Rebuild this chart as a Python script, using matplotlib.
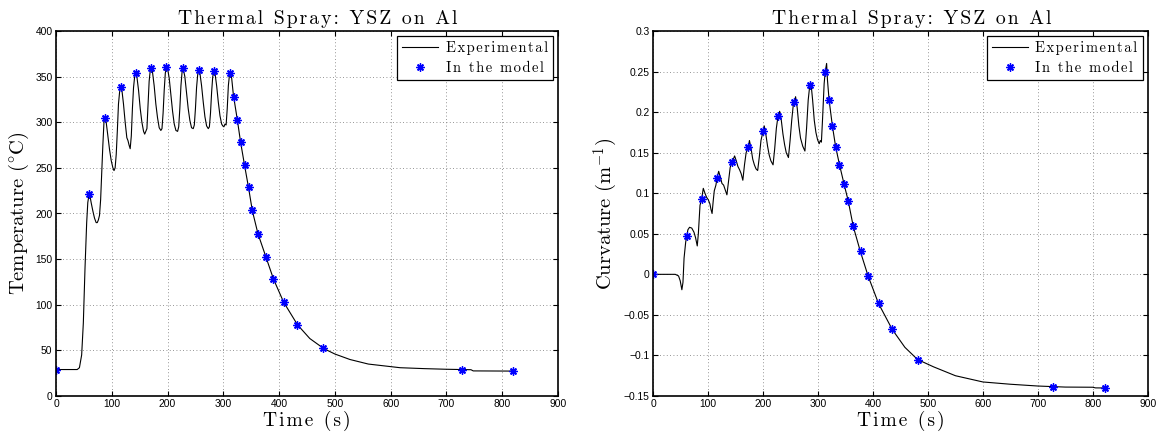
import matplotlib
matplotlib.use("Agg")
import matplotlib.pyplot as plt
from matplotlib.ticker import FixedLocator, FuncFormatter

# ---------------- data ----------------
# Temperature, experimental trace (time s, temperature °C)
t_exp_T = [0, 20, 38, 42, 46, 49, 52, 55, 57, 59, 61, 63, 66, 69, 72, 74, 76, 78, 80, 82, 84, 86, 88,
           90, 93, 96, 99, 102, 104, 106, 108, 110, 112, 114, 116, 118, 121, 124, 127, 129, 131, 133,
           135, 137, 139, 141, 143, 145, 148, 151, 154, 157, 159, 161, 163, 165, 167, 169, 171, 173,
           176, 179, 182, 185, 188, 190, 192, 194, 196, 198, 200, 203, 206, 209, 212, 215, 218, 220,
           222, 224, 226, 228, 231, 234, 237, 240, 243, 246, 248, 250, 252, 254, 256, 258, 261, 264,
           267, 270, 273, 275, 277, 279, 281, 283, 285, 288, 291, 294, 297, 299, 301, 303, 305, 307,
           309, 311, 313, 315, 318, 325, 331, 338, 345, 352, 362, 376, 390, 408, 433, 455, 480, 500,
           527, 560, 617, 660, 700, 744, 748, 820]
T_exp = [29, 29, 29, 31, 45, 80, 140, 190, 212, 220, 219, 212, 203, 195, 190, 190, 193, 198, 215, 245,
         275, 300, 305, 300, 285, 270, 258, 250, 247, 250, 265, 291, 320, 333, 339, 336, 320, 300, 283,
         280, 275, 271, 285, 315, 338, 350, 354, 350, 335, 315, 300, 290, 287, 290, 293, 320, 345, 357,
         359, 355, 340, 320, 305, 294, 291, 293, 310, 335, 354, 360, 359, 348, 330, 312, 298, 291, 290,
         295, 315, 340, 355, 359, 350, 333, 315, 302, 294, 293, 297, 315, 338, 352, 357, 354, 340, 322,
         306, 296, 293, 295, 310, 333, 350, 355, 354, 340, 322, 307, 298, 296, 295, 298, 297, 315,
         340, 352, 354, 348, 330, 303, 278, 253, 229, 203, 178, 153, 128, 103, 78, 63, 52, 46,
         40, 35, 31, 30, 29.3, 28.8, 27.5, 27.3]

# Temperature, model points
t_mod_T = [0, 59, 88, 116, 143, 170, 198, 227, 256, 284, 312, 318.6, 325, 331, 338, 345.5, 352,
           362.8, 376, 389.7, 408, 432.8, 479.4, 727, 820]
T_mod = [29, 221, 305, 339, 353.6, 359.5, 360.5, 359.5, 357.6, 355.8, 354, 328, 303, 278, 253.5, 229,
         203.5, 178, 152.7, 128.6, 103.4, 77.8, 52.6, 28.8, 27.4]

# Curvature, experimental trace (time s, curvature 1/m)
t_exp_k = [0, 20, 40, 46, 49, 52, 54, 56, 59, 61, 63, 66, 70, 74, 77, 80, 82, 85, 88, 91, 94, 97, 100,
           103, 105, 107, 109, 111, 114, 116, 119, 122, 125, 128, 131, 134, 137, 140, 144, 148, 151,
           154, 157, 160, 163, 166, 169, 173, 175, 178, 181, 184, 187, 190, 193, 196, 200, 202, 205,
           208, 211, 214, 218, 221, 224, 227, 230, 233, 236, 239, 242, 246, 249, 252, 255, 257, 259,
           262, 265, 268, 272, 276, 279, 282, 285, 287, 290, 293, 296, 299, 302, 304, 306, 308, 311,
           313, 315.5, 317, 320, 326, 332, 339, 347, 355, 364, 377, 391, 410, 435, 458, 481, 510, 550,
           600, 650, 700, 750, 800, 805, 822]
k_exp = [0, 0, 0, -0.002, -0.008, -0.019, -0.01, 0.02, 0.04, 0.047, 0.055, 0.058, 0.057, 0.052, 0.045,
         0.035, 0.05, 0.085, 0.093, 0.106, 0.1, 0.095, 0.092, 0.087, 0.08, 0.075, 0.09, 0.103, 0.11,
         0.119, 0.127, 0.12, 0.112, 0.11, 0.104, 0.098, 0.115, 0.132, 0.139, 0.146, 0.14, 0.133, 0.129,
         0.124, 0.116, 0.135, 0.15, 0.157, 0.165, 0.155, 0.142, 0.135, 0.13, 0.128, 0.145, 0.165, 0.177,
         0.183, 0.172, 0.158, 0.147, 0.14, 0.135, 0.155, 0.18, 0.195, 0.201, 0.19, 0.173, 0.16, 0.15,
         0.144, 0.165, 0.19, 0.21, 0.213, 0.219, 0.205, 0.183, 0.168, 0.158, 0.152, 0.18, 0.215, 0.234,
         0.236, 0.215, 0.19, 0.175, 0.166, 0.161, 0.165, 0.163, 0.19, 0.235, 0.25, 0.26, 0.24, 0.215,
         0.183, 0.157, 0.135, 0.112, 0.09, 0.059, 0.028, -0.002, -0.036, -0.068, -0.09, -0.105, -0.114,
         -0.125, -0.1327, -0.1355, -0.1377, -0.139, -0.1392, -0.140, -0.1401]

# Curvature, model points
t_mod_k = [0, 61.3, 88, 116, 143.8, 173, 199.6, 227.5, 256.7, 285, 313, 319.8, 325.8, 332, 338.6,
           347, 355, 364, 377.4, 390.8, 410, 435, 481, 728, 821.7]
k_mod = [0, 0.047, 0.093, 0.119, 0.1387, 0.157, 0.1765, 0.1947, 0.2128, 0.2337, 0.250, 0.2152,
         0.1827, 0.1568, 0.135, 0.1115, 0.090, 0.059, 0.0283, -0.002, -0.0357, -0.068, -0.1053,
         -0.1389, -0.1401]

x_ticks = [0, 100, 200, 300, 400, 500, 600, 700, 800, 900]
T_ticks = [0, 50, 100, 150, 200, 250, 300, 350, 400]
k_ticks = [-0.15, -0.1, -0.05, 0, 0.05, 0.1, 0.15, 0.2, 0.25, 0.3]

title_text = "Thermal Spray: YSZ on Al"
xlabel_text = "Time (s)"
ylabel_T = r"Temperature ($^{\circ}$C)"
ylabel_k = r"Curvature (m$^{-1}$)"
legend_labels = ["Experimental", "In the model"]

# ---------------- style ----------------
plt.rcParams["mathtext.fontset"] = "cm"
SERIF = ["cmr10", "DejaVu Serif"]
HAIR = "\u200a"


def spaced(s):
    return HAIR.join(s)


def fmt(v, pos):
    s = "%g" % v
    return s.replace("-", "\u2212")


W, H = 1164, 436
fig = plt.figure(figsize=(W / 100, H / 100), dpi=100)
ax1 = fig.add_axes([56 / W, 40 / H, 502 / W, 365 / H])
ax2 = fig.add_axes([653.3 / W, 40 / H, 494.4 / W, 365 / H])

panels = [
    (ax1, t_exp_T, T_exp, t_mod_T, T_mod, T_ticks, (0, 400), ylabel_T, 0.522),
    (ax2, t_exp_k, k_exp, t_mod_k, k_mod, k_ticks, (-0.15, 0.3), ylabel_k, 0.523),
]

for ax, te, ye, tm, ym, yt, ylim, ylab, tx in panels:
    ax.plot(te, ye, color="black", lw=0.8, label=spaced(legend_labels[0]))
    ax.plot(tm, ym, linestyle="none", marker=(8, 2, 0), markersize=5.8, mew=1.0,
            color="blue", label=spaced(legend_labels[1]))
    ax.set_xlim(0, 900)
    ax.set_ylim(*ylim)
    ax.xaxis.set_major_locator(FixedLocator(x_ticks))
    ax.yaxis.set_major_locator(FixedLocator(yt))
    ax.yaxis.set_major_formatter(FuncFormatter(fmt))
    ax.xaxis.set_major_formatter(FuncFormatter(fmt))
    ax.grid(True, linestyle=(0, (1, 3)), color="0.45", linewidth=0.6)
    ax.tick_params(direction="in", top=True, right=True, length=3.5, width=0.8,
                   labelsize=7.4, pad=2.5)
    for lab in ax.get_xticklabels() + ax.get_yticklabels():
        lab.set_fontfamily("Liberation Sans")
    for sp in ax.spines.values():
        sp.set_linewidth(1.2)
    ax.set_title(spaced(title_text), fontsize=14.2, family=SERIF, pad=5, x=tx)
    ax.set_xlabel(spaced(xlabel_text), fontsize=14, family=SERIF, labelpad=1)
    ax.set_ylabel(ylab, fontsize=14.8, family=SERIF, labelpad=3)
    leg = ax.legend(loc="upper right", fancybox=False, framealpha=1, edgecolor="black",
                    prop={"family": SERIF, "size": 10.5}, handlelength=2.5,
                    borderaxespad=0.35, borderpad=0.35, labelspacing=0.4, handletextpad=0.5)
    leg.get_frame().set_linewidth(0.9)

fig.savefig("out.png", dpi=100)
